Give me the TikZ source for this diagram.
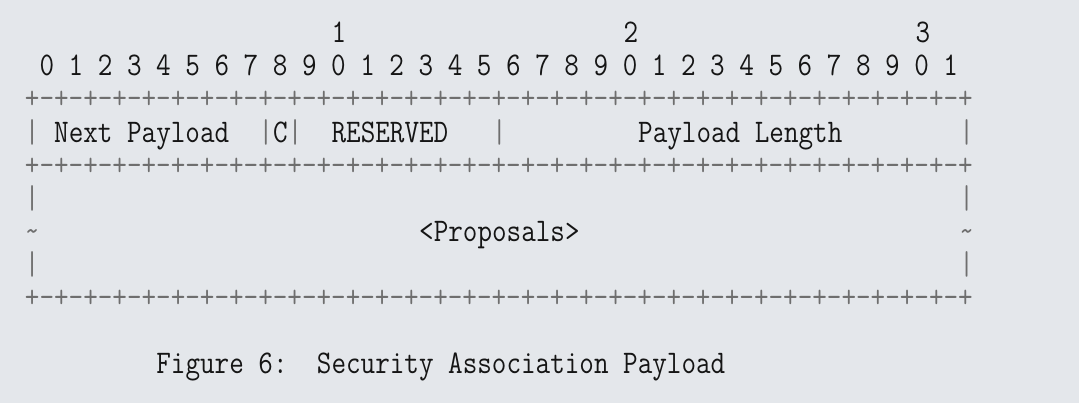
\documentclass[tikz,border=0pt]{standalone}
\usepackage{graphicx}
\definecolor{bg}{HTML}{E4E7EB}
\definecolor{ink}{HTML}{151515}
\definecolor{rulec}{HTML}{6E6E6E}
\tikzset{
  txt/.style={anchor=base west, inner sep=0pt, outer sep=0pt, text=ink,
    font=\fontsize{33}{33}\selectfont\ttfamily\frenchspacing},
  rul/.style={txt, text=rulec},
}
\newcommand\sq[1]{\scalebox{0.858}[1]{#1}}
\newcommand\borderline{+-+-+-+-+-+-+-+-+-+-+-+-+-+-+-+-+-+-+-+-+-+-+-+-+-+-+-+-+-+-+-+-+}
\begin{document}
\begin{tikzpicture}[x=14.6pt,y=-33.1pt]
\fill[bg] (0,0) rectangle (73.904,12.175);
\useasboundingbox (0,0) rectangle (73.904,12.175);
\begin{scope}[shift={(-1.288,1.29)}]
% row 0: tens
\node[txt] (t1) at (24,0) {\sq{1}};
\node[txt] (t2) at (44,0) {\sq{2}};
\node[txt] (t3) at (64,0) {\sq{3}};
% row 1: units
\node[txt] (units) at (4,1) {\sq{0 1 2 3 4 5 6 7 8 9 0 1 2 3 4 5 6 7 8 9 0 1 2 3 4 5 6 7 8 9 0 1}};
% row 2: border
\node[rul] (b1) at (3,2) {\sq{\borderline}};
% row 3: fields
\node[rul] (v1) at (3,3) {\sq{|}};
\node[txt] (np) at (5,3) {\sq{Next Payload}};
\node[rul] (v2) at (19,3) {\sq{|}};
\node[txt] (cf) at (20,3) {\sq{C}};
\node[rul] (v3) at (21,3) {\sq{|}};
\node[txt] (rs) at (24,3) {\sq{RESERVED}};
\node[rul] (v4) at (35,3) {\sq{|}};
\node[txt] (pl) at (45,3) {\sq{Payload Length}};
\node[rul] (v5) at (67,3) {\sq{|}};
% row 4: border
\node[rul] (b2) at (3,4) {\sq{\borderline}};
% rows 5-7: proposals
\node[rul] (l5) at (3,5) {\sq{|}};
\node[rul] (r5) at (67,5) {\sq{|}};
\node[rul] (l6) at (3,6) {\sq{\textasciitilde}};
\node[txt] (pr) at (30,6) {\sq{<Proposals>}};
\node[rul] (r6) at (67,6) {\sq{\textasciitilde}};
\node[rul] (l7) at (3,7) {\sq{|}};
\node[rul] (r7) at (67,7) {\sq{|}};
% row 8: border
\node[rul] (b3) at (3,8) {\sq{\borderline}};
% row 10: caption
\node[txt] (fig) at (12,10) {\sq{Figure 6:}};
\node[txt] (cap) at (23,10) {\sq{Security Association Payload}};
\end{scope}
\end{tikzpicture}
\end{document}
